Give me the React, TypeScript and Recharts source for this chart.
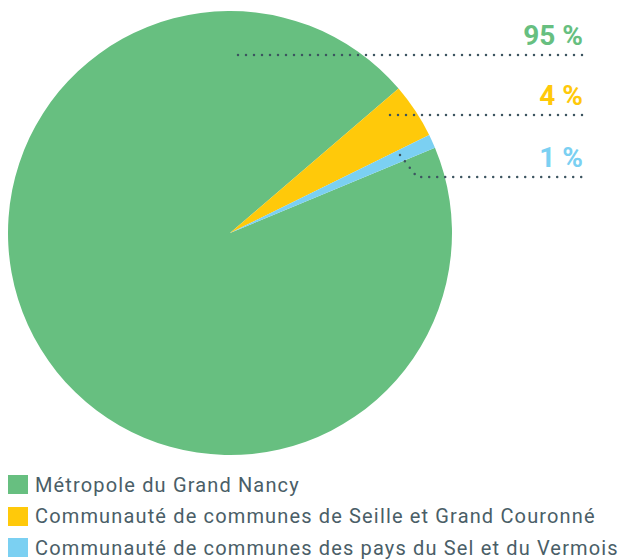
import { Pie, PieChart } from 'recharts';

const TERRITORIES = [
  'Métropole du Grand Nancy',
  'Communauté de communes de Seille et Grand Couronné',
  'Communauté de communes des pays du Sel et du Vermois',
];
const SHARES = [95, 4, 1];
const COLORS = ['#67bf80', '#ffc90a', '#7bd0f2'];

const TEXT_COLOR = '#4a5e67';
const DOT_COLOR = '#3d5560';
const FONT = 'Roboto, "DejaVu Sans", sans-serif';

// points d'ancrage des annotations, relatifs au centre du camembert
const LABEL_ANCHORS = [
  [{ dx: 8, dy: -178 }],
  [{ dx: 160, dy: -118 }],
  [{ dx: 170, dy: -78 }, { dx: 187, dy: -56 }],
];
const LABEL_RIGHT = 583;

const chartData = TERRITORIES.map((name, i) => ({ name, value: SHARES[i], fill: COLORS[i] }));

function renderLabel(props: any) {
  const { cx, cy, index, value } = props;
  const pts = LABEL_ANCHORS[index].map((p) => [cx + p.dx, cy + p.dy]);
  const lineY = pts[pts.length - 1][1];
  const path =
    pts.map((p, i) => `${i === 0 ? 'M' : 'L'}${p[0]},${p[1]}`).join(' ') + ` L${LABEL_RIGHT},${lineY}`;
  return (
    <g key={`lbl-${index}`}>
      <path
        d={path}
        fill="none"
        stroke={DOT_COLOR}
        strokeWidth={2.5}
        strokeLinecap="round"
        strokeDasharray="0 8"
      />
      <text
        x={LABEL_RIGHT}
        y={lineY - 10}
        textAnchor="end"
        fill={COLORS[index]}
        fontFamily={FONT}
        fontWeight={700}
        fontSize={28}
      >
        {`${value} %`}
      </text>
    </g>
  );
}

// légende dans l'ordre des données
function ChartLegend() {
  return (
    <div style={{ position: 'absolute', left: 8, top: 469 }}>
      {TERRITORIES.map((name, i) => (
        <div key={name} style={{ display: 'flex', alignItems: 'center', height: 31.5 }}>
          <span
            style={{ width: 20, height: 19, background: COLORS[i], display: 'inline-block', marginRight: 7 }}
          />
          <span
            style={{
              fontFamily: FONT,
              fontSize: 20,
              letterSpacing: 1.15,
              color: TEXT_COLOR,
              whiteSpace: 'nowrap',
            }}
          >
            {name}
          </span>
        </div>
      ))}
    </div>
  );
}

export default function App() {
  return (
    <div
      style={{
        position: 'fixed',
        left: 0,
        top: 0,
        width: 623,
        height: 559,
        background: '#fff',
        overflow: 'hidden',
      }}
    >
      <PieChart width={623} height={559} margin={{ top: 0, right: 0, bottom: 0, left: 0 }}>
        <Pie
          data={chartData}
          dataKey="value"
          nameKey="name"
          cx={230}
          cy={233}
          outerRadius={222}
          startAngle={22.6}
          endAngle={-337.4}
          stroke="none"
          label={renderLabel}
          labelLine={false}
          isAnimationActive={false}
        />
      </PieChart>
      <ChartLegend />
    </div>
  );
}
